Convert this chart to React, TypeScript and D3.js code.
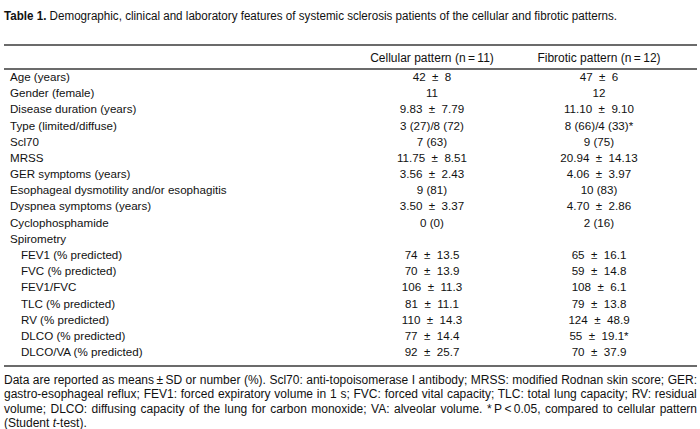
import React, { useMemo } from "react";
import { scalePoint } from "d3";

const width = 700;
const height = 429;

const font = "'Liberation Sans', Arial, sans-serif";
const ink = "#111";
const ruleColor = "#3a3a3a";

const titleBold = "Table 1.";
const titleRest =
  "Demographic, clinical and laboratory features of systemic sclerosis patients of the cellular and fibrotic patterns.";

const groups = ["Cellular pattern (n\u2009=\u200911)", "Fibrotic pattern (n\u2009=\u200912)"];

const rowLabels = [
  "Age (years)",
  "Gender (female)",
  "Disease duration (years)",
  "Type (limited/diffuse)",
  "Scl70",
  "MRSS",
  "GER symptoms (years)",
  "Esophageal dysmotility and/or esophagitis",
  "Dyspnea symptoms (years)",
  "Cyclophosphamide",
  "Spirometry",
  "FEV1 (% predicted)",
  "FVC (% predicted)",
  "FEV1/FVC",
  "TLC (% predicted)",
  "RV (% predicted)",
  "DLCO (% predicted)",
  "DLCO/VA (% predicted)"
];

// 1 = sub-item of Spirometry
const rowIndent = [0, 0, 0, 0, 0, 0, 0, 0, 0, 0, 0, 1, 1, 1, 1, 1, 1, 1];

const cellularValues = [
  "42  \u00b1  8",
  "11",
  "9.83  \u00b1  7.79",
  "3 (27)/8 (72)",
  "7 (63)",
  "11.75  \u00b1  8.51",
  "3.56  \u00b1  2.43",
  "9 (81)",
  "3.50  \u00b1  3.37",
  "0 (0)",
  "",
  "74  \u00b1  13.5",
  "70  \u00b1  13.9",
  "106  \u00b1  11.3",
  "81  \u00b1  11.1",
  "110  \u00b1  14.3",
  "77  \u00b1  14.4",
  "92  \u00b1  25.7"
];

const fibroticValues = [
  "47  \u00b1  6",
  "12",
  "11.10  \u00b1  9.10",
  "8 (66)/4 (33)*",
  "9 (75)",
  "20.94  \u00b1  14.13",
  "4.06  \u00b1  3.97",
  "10 (83)",
  "4.70  \u00b1  2.86",
  "2 (16)",
  "",
  "65  \u00b1  16.1",
  "59  \u00b1  14.8",
  "108  \u00b1  6.1",
  "79  \u00b1  13.8",
  "124  \u00b1  48.9",
  "55  \u00b1  19.1*",
  "70  \u00b1  37.9"
];

const footnoteLines = [
  "Data are reported as means\u2009\u00b1\u2009SD or number (%). Scl70: anti-topoisomerase I antibody; MRSS: modified Rodnan skin score; GER:",
  "gastro-esophageal reflux; FEV1: forced expiratory volume in 1 s; FVC: forced vital capacity; TLC: total lung capacity; RV: residual",
  "volume; DLCO: diffusing capacity of the lung for carbon monoxide; VA: alveolar volume. *\u2009P\u2009<\u20090.05, compared to cellular pattern"
];
const footnoteLast = ["(Student ", "t", "-test)."];

const left = 4;
const right = 697;

const measure = (text: string, size: number) => {
  const ctx = document.createElement("canvas").getContext("2d");
  if (!ctx) return text.length * size * 0.5;
  ctx.font = `${size}px 'Liberation Sans'`;
  return ctx.measureText(text).width;
};

export default function App() {
  const y = scalePoint<string>().domain(rowLabels).range([77, 352]);
  const col = scalePoint<string>().domain(groups).range([432, 599]);

  const bodySize = 11.6;
  const fnSize = 12;
  const fnTop = 384;
  const fnStep = 14.3;

  const spacings = useMemo(
    () =>
      footnoteLines.map((line) => {
        const gaps = line.split(" ").length - 1;
        return (right - left - measure(line, fnSize)) / gaps;
      }),
    []
  );

  return (
    <svg
      width={width}
      height={height}
      style={{ position: "absolute", left: 0, top: 0, background: "#fff" }}
      fontFamily={font}
      fill={ink}
    >
      <text x={left} y={20} fontSize={12} fontFamily="'Liberation Sans Narrow', 'Liberation Sans', sans-serif" textLength={613} lengthAdjust="spacingAndGlyphs">
        <tspan fontWeight="bold">{titleBold}</tspan>
        <tspan> {titleRest}</tspan>
      </text>

      <line x1={left} x2={right} y1={45} y2={45} stroke={ruleColor} strokeWidth={1.3} />
      <line x1={left} x2={right} y1={69} y2={69} stroke={ruleColor} strokeWidth={1.3} />
      <line x1={left} x2={right} y1={366} y2={366} stroke={ruleColor} strokeWidth={1.3} />

      {groups.map((g) => (
        <text key={g} x={col(g)} y={62} fontSize={12} textAnchor="middle">
          {g}
        </text>
      ))}

      {rowLabels.map((label, i) => (
        <g key={label} transform={`translate(0, ${y(label)})`}>
          <text x={rowIndent[i] ? 21 : 10} dy="0.35em" fontSize={bodySize}>
            {label}
          </text>
          <text x={col(groups[0])} dy="0.35em" fontSize={bodySize} textAnchor="middle" style={{ whiteSpace: "pre" }}>
            {cellularValues[i]}
          </text>
          <text x={col(groups[1])} dy="0.35em" fontSize={bodySize} textAnchor="middle" style={{ whiteSpace: "pre" }}>
            {fibroticValues[i]}
          </text>
        </g>
      ))}

      {footnoteLines.map((line, i) => (
        <text
          key={i}
          x={left}
          y={fnTop + i * fnStep}
          fontSize={fnSize}
          style={{ wordSpacing: `${spacings[i]}px` }}
        >
          {line}
        </text>
      ))}
      <text x={left} y={fnTop + 3 * fnStep} fontSize={fnSize}>
        <tspan>{footnoteLast[0]}</tspan>
        <tspan fontStyle="italic">{footnoteLast[1]}</tspan>
        <tspan>{footnoteLast[2]}</tspan>
      </text>
    </svg>
  );
}
